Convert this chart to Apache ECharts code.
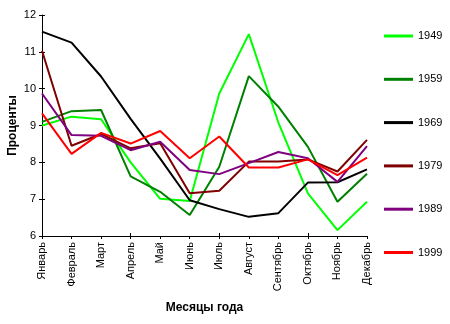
<!DOCTYPE html>
<html><head><meta charset="utf-8">
<script src="https://cdn.jsdelivr.net/npm/echarts@6/dist/echarts.min.js"></script>
<style>html,body{margin:0;padding:0;background:#fff}#c{width:450px;height:324px}</style>
</head><body><div id="c"></div>
<script>
var months = ['Январь','Февраль','Март','Апрель','Май','Июнь','Июль','Август','Сентябрь','Октябрь','Ноябрь','Декабрь'];
var yTicks = [6, 7, 8, 9, 10, 11, 12];
var years = ['1949','1959','1969','1979','1989','1999'];
var y1949 = [9.0, 9.24, 9.17, 8.0, 7.01, 6.95, 9.87, 11.48, 9.08, 7.16, 6.16, 6.93];
var y1959 = [9.1, 9.39, 9.42, 7.62, 7.2, 6.57, 7.88, 10.34, 9.51, 8.42, 6.93, 7.69];
var y1969 = [11.55, 11.25, 10.33, 9.18, 8.1, 6.97, 6.73, 6.52, 6.62, 7.45, 7.46, 7.81];
var y1979 = [11.03, 8.45, 8.77, 8.38, 8.52, 7.16, 7.23, 8.02, 8.02, 8.08, 7.75, 8.61];
var y1989 = [9.87, 8.74, 8.72, 8.33, 8.56, 7.79, 7.68, 7.98, 8.28, 8.11, 7.47, 8.44];
var y1999 = [9.33, 8.23, 8.8, 8.51, 8.85, 8.11, 8.7, 7.86, 7.86, 8.08, 7.65, 8.13];
var seriesData = [y1949, y1959, y1969, y1979, y1989, y1999];
var colors = ['#00ff00', '#008000', '#000000', '#800000', '#800080', '#ff0000'];

var FONT = '"Liberation Sans", Arial, sans-serif';
var chart = echarts.init(document.getElementById('c'), null, {renderer: 'canvas'});
var axisLine = {show: true, lineStyle: {color: '#000', width: 1}};
chart.setOption({
  animation: false,
  backgroundColor: '#fff',
  color: colors,
  grid: {left: 42, top: 15, right: 83, bottom: 88, containLabel: false, outerBoundsMode: 'none'},
  legend: {
    orient: 'vertical', left: 384, top: 29, padding: 0,
    icon: 'rect', itemWidth: 29, itemHeight: 3, itemGap: 29.3,
    textStyle: {fontFamily: FONT, fontSize: 11, color: '#000', lineHeight: 14},
    data: years
  },
  xAxis: [{
    type: 'category', data: months, boundaryGap: false,
    axisLine: axisLine,
    axisTick: {show: true, inside: false, length: 3, lineStyle: {color: '#000'}, alignWithLabel: true},
    axisLabel: {rotate: 90, interval: 0, margin: 6, fontFamily: FONT, fontSize: 11, color: '#000'},
    splitLine: {show: false},
    name: 'Месяцы года', nameLocation: 'middle', nameGap: 66, nameMoveOverlap: false,
    nameTextStyle: {fontFamily: FONT, fontSize: 12, fontWeight: 'bold', color: '#000'}
  }, {
    type: 'category', data: months, boundaryGap: false, position: 'bottom',
    axisLine: {show: false},
    axisTick: {show: true, inside: true, length: 3, lineStyle: {color: '#000'}},
    axisLabel: {show: false}, splitLine: {show: false}
  }],
  yAxis: [{
    type: 'value', min: 6, max: 12, interval: 1,
    axisLine: axisLine,
    axisTick: {show: true, inside: false, length: 3, lineStyle: {color: '#000'}},
    axisLabel: {margin: 6, fontFamily: FONT, fontSize: 11, color: '#000',
      formatter: function (v) { return yTicks.indexOf(v) >= 0 ? String(v) : ''; }},
    splitLine: {show: false},
    name: 'Проценты', nameLocation: 'middle', nameGap: 23, nameMoveOverlap: false,
    nameTextStyle: {fontFamily: FONT, fontSize: 12, fontWeight: 'bold', color: '#000'}
  }, {
    type: 'value', min: 6, max: 12, interval: 1, position: 'left',
    axisLine: {show: false},
    axisTick: {show: true, inside: true, length: 3, lineStyle: {color: '#000'}},
    axisLabel: {show: false}, splitLine: {show: false}
  }],
  series: years.map(function (y, i) {
    return {
      name: y, type: 'line', data: seriesData[i],
      xAxisIndex: 0, yAxisIndex: 0,
      showSymbol: false, symbol: 'none', smooth: false,
      lineStyle: {width: 2, color: colors[i]},
      itemStyle: {color: colors[i]}
    };
  })
});
</script></body></html>
